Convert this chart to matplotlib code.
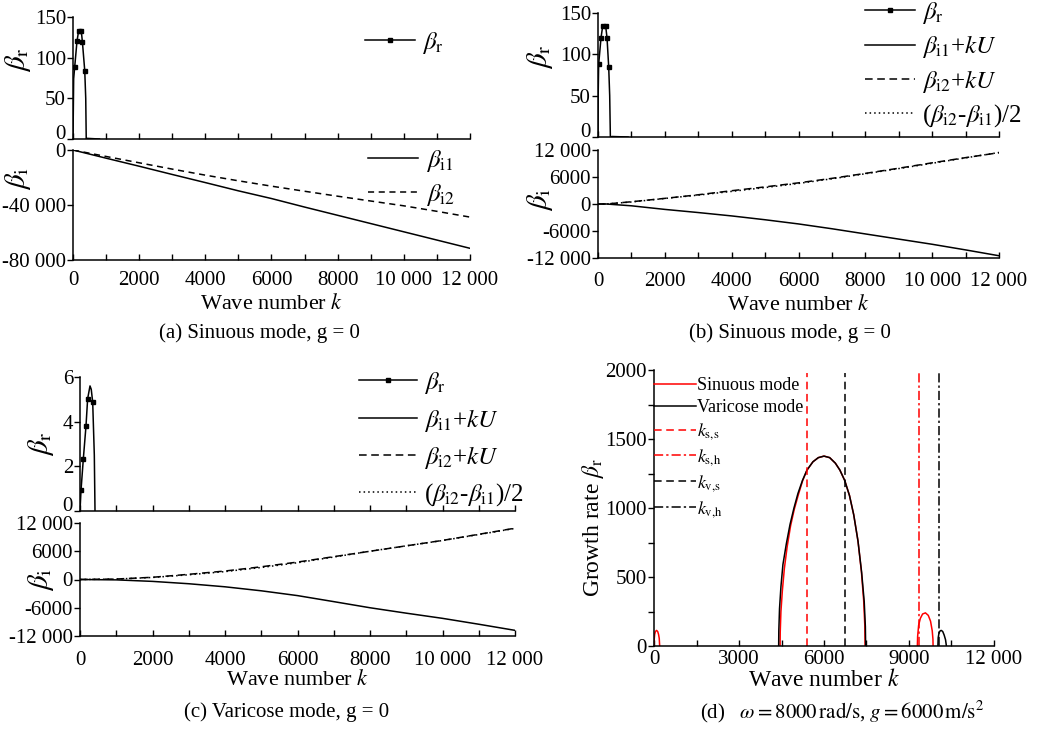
import matplotlib.pyplot as plt
from matplotlib.ticker import FixedLocator, MultipleLocator

plt.rcParams['font.family'] = ['Liberation Serif', 'DejaVu Serif']
plt.rcParams['mathtext.fontset'] = 'stix'
plt.rcParams['font.size'] = 15
plt.rcParams['axes.linewidth'] = 1.1

# ---- (a) sinuous mode, g = 0 ----
ka_r = [0, 20, 50, 120, 170, 210, 250, 285, 355, 385, 400, 420, 800]
a_beta_r = [0, 74, 88, 120, 133, 134, 133, 119, 84, 50, 0, 0.8, 0]
ka_r_marks = [2, 3, 4, 6, 7, 8]
ka_i = [0, 1000, 2000, 3000, 4000, 5000, 6000, 7000, 8000, 9000, 10000, 11000, 12000]
a_beta_i1 = [0, -5950, -11800, -17800, -23700, -29700, -35300, -41500, -47500,
             -53500, -59500, -65500, -71500]
a_beta_i2 = [0, -4700, -9300, -13900, -18300, -22400, -26300, -30000, -33600,
             -37100, -40600, -44600, -48800]

# ---- (b) sinuous mode, g = 0, shifted by kU ----
kb_r = [0, 5, 20, 90, 140, 185, 230, 270, 320, 350, 370, 420, 900]
b_beta_r = [0, 50, 88, 120, 134, 135, 134, 120, 85, 50, 0, 0.6, 0]
kb_r_marks = [2, 3, 4, 6, 7, 8]
kb_i = [0, 250, 1000, 2000, 3000, 4000, 5000, 6000, 7000, 8000, 9000, 10000, 11000, 12000]
b_beta_i1_kU = [0, 0, -400, -1200, -1900, -2650, -3500, -4430, -5500, -6650,
                -7800, -8950, -10200, -11500]
b_beta_i2_kU = [0, 0, 500, 1250, 2050, 2950, 3800, 4700, 5700, 6800, 7950,
                9150, 10300, 11400]
b_half_diff = [0, 0, 450, 1230, 1980, 2800, 3650, 4570, 5600, 6720, 7870,
               9050, 10250, 11450]

# ---- (c) varicose mode, g = 0 ----
kc_r = [0, 28, 92, 165, 211, 276, 310, 350, 395, 414]
c_beta_r = [0, 0.93, 2.34, 3.8, 5.03, 5.6, 5.45, 4.88, 2.5, 0]
kc_r_marks = [1, 2, 3, 4, 7]
kc_i = [0, 1000, 2000, 3000, 4000, 5000, 6000, 7000, 8000, 9000, 10000, 11000, 12000]
c_beta_i1_kU = [0, -80, -400, -900, -1550, -2400, -3420, -4700, -6000, -7150,
                -8250, -9500, -10800]
c_beta_i2_kU = [0, 100, 470, 1100, 1800, 2700, 3700, 4850, 6000, 7150, 8300,
                9600, 10900]
c_half_diff = [0, 90, 435, 1000, 1675, 2550, 3560, 4775, 6000, 7150, 8275,
               9550, 10850]

# ---- (d) omega = 8000 rad/s, g = 6000 m/s^2 ----
kd_sin1 = [0, 10, 25, 50, 90, 130, 160, 185, 200]
d_sin1 = [0, 55, 85, 105, 113, 105, 85, 55, 0]
kd_sin2 = [4450, 4455, 4480, 4530, 4600, 4700, 4820, 4950, 5100, 5250, 5400,
           5610, 5800, 6000, 6200, 6400, 6560, 6730, 6900, 7050, 7200, 7320,
           7400, 7440, 7450]
d_sin2 = [0, 100, 250, 400, 560, 720, 870, 990, 1100, 1200, 1275,
          1335, 1365, 1376, 1365, 1325, 1275, 1200, 1090, 950, 760, 540,
          330, 150, 0]
kd_sin3 = [9295, 9305, 9340, 9400, 9480, 9580, 9680, 9760, 9820, 9845, 9850]
d_sin3 = [0, 70, 150, 200, 232, 240, 222, 180, 110, 50, 0]
kd_var1 = [4400, 4405, 4430, 4480, 4550, 4670, 4800, 4940, 5080, 5240, 5400,
           5610, 5800, 6000, 6200, 6400, 6560, 6730, 6900, 7050, 7200, 7330,
           7420, 7460, 7470]
d_var1 = [0, 110, 270, 430, 590, 740, 880, 1000, 1105, 1200, 1275,
          1335, 1365, 1376, 1365, 1325, 1275, 1200, 1090, 950, 760, 530,
          320, 140, 0]
kd_var2 = [10020, 10030, 10060, 10100, 10140, 10190, 10240, 10290, 10320]
d_var2 = [0, 60, 95, 110, 113, 105, 80, 45, 0]
k_ss, k_sh, k_vs, k_vh = 5400, 9350, 6730, 10050

x_ticks = [0, 2000, 4000, 6000, 8000, 10000, 12000]
x_ticklabels = ['0', '2000', '4000', '6000', '8000', '10 000', '12 000']
xd_ticks = [0, 3000, 6000, 9000, 12000]
xd_ticklabels = ['0', '3000', '6000', '9000', '12 000']

W, H = 1040, 731
fig = plt.figure(figsize=(W / 100, H / 100), dpi=100)


def px_axes(left, top, right, bottom):
    return fig.add_axes([left / W, 1 - bottom / H, (right - left) / W, (bottom - top) / H])


def style(ax, top_part, tick_pad=8, label_pad=3):
    ax.spines['top'].set_visible(False)
    ax.spines['right'].set_visible(False)
    ax.set_xlim(0, 12000)
    ax.xaxis.set_major_locator(FixedLocator(x_ticks))
    ax.xaxis.set_minor_locator(MultipleLocator(1000))
    ax.tick_params(axis='x', which='both', direction='in', length=4, width=1)
    ax.tick_params(axis='y', which='both', direction='out', length=4, width=1, pad=1)
    if top_part:
        ax.tick_params(axis='x', labelbottom=False)
        # lift the zero label so it clears the panel below
        ax.get_yticklabels()[0].set_verticalalignment('baseline')
    else:
        ax.set_xticklabels(x_ticklabels)
        ax.tick_params(axis='x', pad=tick_pad)
        ax.set_xlabel('Wave number $k$', fontsize=16, labelpad=label_pad)


def legend_at(ax, handles, x, y, fs, spacing, hlen):
    ax.legend(handles=handles, loc='upper left', bbox_to_anchor=(x / W, 1 - y / H),
              bbox_transform=fig.transFigure, frameon=False, fontsize=fs,
              borderpad=0, borderaxespad=0, handlelength=hlen, handletextpad=0.3,
              labelspacing=spacing)


lw = 1.1
mk = dict(marker='s', markersize=2.4)

# (a)
a1 = px_axes(73, 17, 470, 139)
a2 = px_axes(73, 150, 470, 260)
la, = a1.plot(ka_r, a_beta_r, 'k-', lw=lw, markevery=ka_r_marks, **mk, label=r'$\beta_{\rm r}$')
a1.set_ylim(0, 150)
a1.set_yticks([0, 50, 100, 150])
style(a1, True)
a1.set_ylabel(r'$\beta_{\rm r}$', fontsize=21)
a1.yaxis.set_label_coords(-0.10, 0.65)
li1, = a2.plot(ka_i, a_beta_i1, 'k-', lw=lw, label=r'$\beta_{\rm i1}$')
li2, = a2.plot(ka_i, a_beta_i2, 'k--', lw=lw, dashes=(4, 3), label=r'$\beta_{\rm i2}$')
a2.set_ylim(-80000, 0)
a2.set_yticks([-80000, -40000, 0])
a2.set_yticklabels(['-80 000', '-40 000', '0'])
style(a2, False, 8, 3)
a2.set_ylabel(r'$\beta_{\rm i}$', fontsize=21)
a2.yaxis.set_label_coords(-0.10, 0.745)
legend_at(a1, [la], 365, 30, 18, 0.3, 2.0)
legend_at(a2, [li1, li2], 368, 148, 18, 0.3, 2.0)
fig.text(259 / W, 1 - 333 / H, '(a) Sinuous mode, g = 0', ha='center', va='center', fontsize=15)

# (b) and (c) share the same layout
for (left, right, top1, bot1, top2, bot2, kr, br, marks, ylim_r, yt_r, ki, bi1, bi2, bh,
     lab_x, lab_y1, lab_y2, tpad, lpad, leg_x, leg_y, leg_sp, leg_hl, cap_x, cap_y, cap) in [
        (598, 999, 13, 137, 150, 258, kb_r, b_beta_r, kb_r_marks, 150, [0, 50, 100, 150],
         kb_i, b_beta_i1_kU, b_beta_i2_kU, b_half_diff,
         -0.107, 0.645, 0.54, 10, 3, 865, 0, 0.3, 2.0, 790, 333, '(b) Sinuous mode, g = 0'),
        (80, 515, 377, 511, 523, 636, kc_r, c_beta_r, kc_r_marks, 6, [0, 2, 4, 6],
         kc_i, c_beta_i1_kU, c_beta_i2_kU, c_half_diff,
         -0.055, 0.5, 0.5, 11, 0, 359, 370, 0.42, 2.3, 287, 712, '(c) Varicose mode, g = 0')]:
    t = px_axes(left, top1, right, bot1)
    b = px_axes(left, top2, right, bot2)
    hr, = t.plot(kr, br, 'k-', lw=lw, markevery=marks, **mk, label=r'$\beta_{\rm r}$')
    t.set_ylim(0, ylim_r)
    t.set_yticks(yt_r)
    style(t, True)
    t.set_ylabel(r'$\beta_{\rm r}$', fontsize=21)
    t.yaxis.set_label_coords(lab_x, lab_y1)
    h1, = b.plot(ki, bi1, 'k-', lw=lw, label=r'$\beta_{\rm i1}$+$kU$')
    h2, = b.plot(ki, bi2, 'k--', lw=lw, dashes=(5, 3), label=r'$\beta_{\rm i2}$+$kU$')
    h3, = b.plot(ki, bh, 'k:', lw=lw, dashes=(1, 2), label=r'($\beta_{\rm i2}$-$\beta_{\rm i1}$)/2')
    b.set_ylim(-12000, 12000)
    b.set_yticks([-12000, -6000, 0, 6000, 12000])
    b.set_yticklabels(['-12 000', '-6000', '0', '6000', '12 000'])
    style(b, False, tpad, lpad)
    b.set_ylabel(r'$\beta_{\rm i}$', fontsize=21)
    b.yaxis.set_label_coords(lab_x, lab_y2)
    legend_at(t, [hr, h1, h2, h3], leg_x, leg_y, 18, leg_sp, leg_hl)
    fig.text(cap_x / W, 1 - cap_y / H, cap, ha='center', va='center', fontsize=15)

# (d)
d = px_axes(654, 370, 994, 646)
s1, = d.plot(kd_sin1, d_sin1, color='red', lw=lw, label='Sinuous mode')
d.plot(kd_sin2, d_sin2, color='red', lw=lw)
d.plot(kd_sin3, d_sin3, color='red', lw=lw)
v1, = d.plot(kd_var1, d_var1, color='black', lw=lw, label='Varicose mode')
d.plot(kd_var2, d_var2, color='black', lw=lw)
v_ss = d.axvline(k_ss, 0, 0.99, color='red', ls='--', lw=lw, dashes=(5, 3), label=r'$k_{\rm s{,}s}$')
v_sh = d.axvline(k_sh, 0, 0.99, color='red', ls='-.', lw=lw, dashes=(6, 2, 1.5, 2), label=r'$k_{\rm s{,}h}$')
v_vs = d.axvline(k_vs, 0, 0.99, color='black', ls='--', lw=lw, dashes=(5, 3), label=r'$k_{\rm v{,}s}$')
v_vh = d.axvline(k_vh, 0, 0.99, color='black', ls='-.', lw=lw, dashes=(6, 2, 1.5, 2), label=r'$k_{\rm v{,}h}$')
d.spines['top'].set_visible(False)
d.spines['right'].set_visible(False)
d.set_xlim(0, 12000)
d.set_ylim(0, 2000)
d.xaxis.set_major_locator(FixedLocator(xd_ticks))
d.set_xticklabels(xd_ticklabels)
d.xaxis.set_minor_locator(MultipleLocator(1500))
d.yaxis.set_major_locator(MultipleLocator(500))
d.yaxis.set_minor_locator(MultipleLocator(250))
d.tick_params(axis='x', which='both', direction='in', length=4, width=1, pad=3)
d.tick_params(axis='y', which='both', direction='out', length=4, width=1, pad=1)
d.set_xlabel('Wave number $k$', fontsize=17, labelpad=0)
d.set_ylabel(r'Growth rate $\beta_{\rm r}$', fontsize=17)
d.yaxis.set_label_coords(-0.14, 0.43)
d.legend(handles=[s1, v1, v_ss, v_sh, v_vs, v_vh], loc='upper left',
         bbox_to_anchor=(654 / W, 1 - 377 / H), bbox_transform=fig.transFigure,
         frameon=False, fontsize=13, borderpad=0, borderaxespad=0, handlelength=2.3,
         handletextpad=0.1, labelspacing=0.28)
fig.text(842 / W, 1 - 712 / H,
         r'(d)   $\omega = 8000\,\mathrm{rad/s}$, $g = 6000\,\mathrm{m/s^2}$',
         ha='center', va='center', fontsize=15)

fig.savefig('out.png', dpi=100)
